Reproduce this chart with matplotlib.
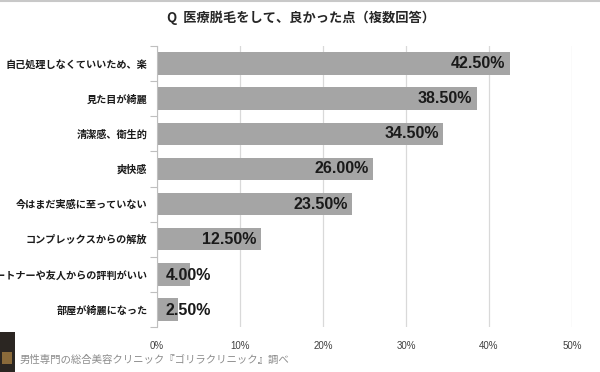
import matplotlib
matplotlib.use("Agg")
import matplotlib.pyplot as plt
from matplotlib.patches import Rectangle
from matplotlib.lines import Line2D
from matplotlib.ticker import FuncFormatter, FixedLocator

categories = [
    "自己処理しなくていいため、楽",
    "見た目が綺麗",
    "清潔感、衛生的",
    "爽快感",
    "今はまだ実感に至っていない",
    "コンプレックスからの解放",
    "パートナーや友人からの評判がいい",
    "部屋が綺麗になった",
]
values = [42.5, 38.5, 34.5, 26.0, 23.5, 12.5, 4.0, 2.5]
value_labels = ["42.50%", "38.50%", "34.50%", "26.00%", "23.50%", "12.50%", "4.00%", "2.50%"]
xticks = [0, 10, 20, 30, 40, 50]
title = "Q  医療脱毛をして、良かった点（複数回答）"
source = "男性専門の総合美容クリニック『ゴリラクリニック』調べ"

JP = ["Noto Sans CJK JP", "DejaVu Sans"]
plt.rcParams["font.family"] = JP

fig = plt.figure(figsize=(6.0, 3.72), dpi=100)
W, H = 600, 372
ax = fig.add_axes([157 / W, 1 - 327 / H, (572 - 157) / W, (327 - 46) / H])

n = len(categories)
ypos = list(range(n))
ax.barh(ypos, values, height=0.64, color="#A5A5A5", zorder=3)
ax.set_ylim(n - 0.5, -0.5)
ax.set_xlim(0, 50)

for y, v, lab in zip(ypos, values, value_labels):
    if v > 10:
        ax.text(v - 0.5, y, lab, ha="right", va="center", fontsize=11.5,
                fontweight="bold", color="#1a1a1a", family="Liberation Sans", zorder=4)
    else:
        ax.text(1.0, y + 0.03, lab, ha="left", va="center", fontsize=11.5,
                fontweight="bold", color="#1a1a1a", family="Liberation Sans", zorder=4)

ax.xaxis.set_major_locator(FixedLocator(xticks))
ax.xaxis.set_major_formatter(FuncFormatter(lambda x, p: f"{int(x)}%"))
ax.tick_params(axis="x", length=0, labelsize=7, colors="#404040", pad=10)
for t in ax.get_xticklabels():
    t.set_family("Liberation Sans")
ax.grid(axis="x", color="#D9D9D9", linewidth=0.9, zorder=0)

ax.set_yticks(ypos)
ax.set_yticklabels(categories, fontsize=7.3, color="#1a1a1a", fontweight="bold")
ax.tick_params(axis="y", length=0, pad=7)
ax.yaxis.set_minor_locator(FixedLocator([i + 0.5 for i in range(-1, n)]))
ax.tick_params(axis="y", which="minor", length=5, color="#BFBFBF", width=0.8)

for s in ["top", "right", "bottom"]:
    ax.spines[s].set_visible(False)
ax.spines["left"].set_color("#BFBFBF")
ax.spines["left"].set_linewidth(0.8)
ax.spines["left"].set_zorder(5)

fig.text(301 / W, 1 - 18 / H, title, ha="center", va="center", fontsize=9.5,
         fontweight="bold", color="#262626")
fig.text(20 / W, 1 - 360 / H, source, ha="left", va="center", fontsize=7.5,
         color="#8C8C8C")

fig.add_artist(Line2D([0, 1], [1 - 1 / H, 1 - 1 / H], transform=fig.transFigure,
                      color="#C8C8C8", linewidth=1.5))
fig.add_artist(Rectangle((0, 0), 15 / W, 40 / H, transform=fig.transFigure,
                         facecolor="#2B2622", edgecolor="none"))
fig.add_artist(Rectangle((2 / W, 8 / H), 10 / W, 12 / H, transform=fig.transFigure,
                         facecolor="#8A6A3A", edgecolor="none"))

fig.savefig("out.png", dpi=100)
